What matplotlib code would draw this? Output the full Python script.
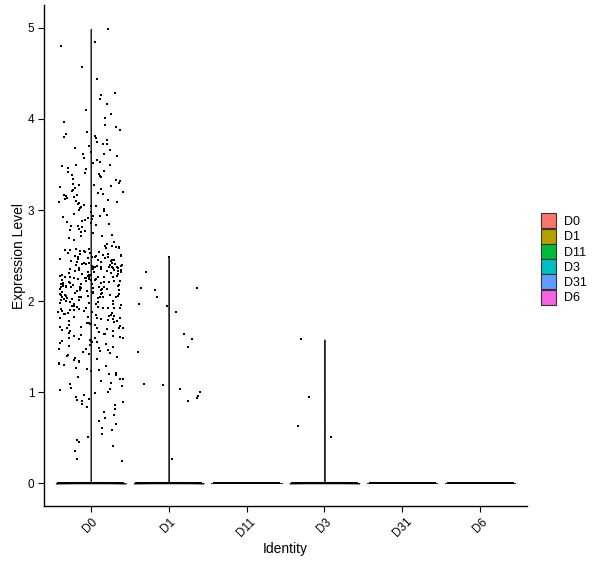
import numpy as np
import matplotlib.pyplot as plt
from matplotlib.patches import Patch

plt.rcParams['font.family'] = ['Liberation Sans', 'DejaVu Sans']

groups = ["D0", "D1", "D11", "D3", "D31", "D6"]
colors = ["#F8766D", "#B79F00", "#00BA38", "#00BFC4", "#619CFF", "#F564E3"]

# number of cells with zero expression in each group
zero_counts = [6000, 6000, 4000, 4000, 3000, 3000]

# non-zero expression values
d0_text = """
4.99 4.85 4.80 4.57 4.44 4.29 4.26 4.22 4.16 4.10 4.06 4.01
3.97 3.93 3.91 3.88 3.86 3.83 3.81 3.80 3.79 3.77 3.75 3.73 3.72 3.70
3.68 3.66 3.64 3.62 3.61 3.59 3.57 3.55 3.53 3.52 3.50
3.49 3.48 3.46 3.45 3.43 3.42 3.41 3.40 3.39 3.37 3.36 3.34 3.33 3.32 3.30
3.29 3.28 3.27 3.26 3.25 3.24 3.23 3.22 3.21 3.20
3.19 3.18 3.17 3.16 3.15 3.14 3.13 3.12 3.11 3.10
3.09 3.09 3.08 3.07 3.06 3.05 3.04 3.03 3.02 3.01 3.00
2.99 2.98 2.96 2.95 2.94 2.93 2.92 2.91 2.90
2.89 2.88 2.87 2.86 2.85 2.84 2.83 2.82 2.81
2.79 2.78 2.77 2.76 2.75 2.73 2.72 2.71 2.69 2.67 2.65 2.63 2.61
2.60 2.59 2.59 2.58 2.58 2.57 2.57 2.56 2.56 2.55 2.55 2.54 2.54 2.53 2.53
2.52 2.52 2.51 2.51 2.50 2.50 2.50
2.49 2.49 2.48 2.48 2.47 2.47 2.46 2.46 2.45 2.45 2.45 2.44 2.44 2.43 2.43
2.42 2.42 2.42 2.41 2.41 2.41 2.40 2.40 2.40
2.39 2.39 2.39 2.38 2.38 2.38 2.37 2.37 2.37 2.36 2.36 2.36 2.35 2.35 2.35
2.34 2.34 2.34 2.33 2.33 2.33 2.32 2.32 2.32 2.31 2.31 2.30 2.30
2.29 2.29 2.29 2.28 2.28 2.28 2.27 2.27 2.27 2.26 2.26 2.26 2.25 2.25 2.25
2.24 2.24 2.24 2.23 2.23 2.23 2.22 2.22 2.22 2.21 2.21 2.21 2.20 2.20 2.20
2.19 2.19 2.19 2.18 2.18 2.18 2.17 2.17 2.17 2.16 2.16 2.16 2.15 2.15 2.15
2.14 2.14 2.14 2.13 2.13 2.13 2.12 2.12 2.12 2.11 2.11 2.10 2.10
2.09 2.09 2.09 2.08 2.08 2.08 2.07 2.07 2.07 2.06 2.06 2.06 2.05 2.05 2.05
2.04 2.04 2.04 2.03 2.03 2.02 2.02 2.01 2.01 2.00 2.00
1.99 1.99 1.98 1.98 1.97 1.97 1.97 1.96 1.96 1.95 1.95 1.94 1.94
1.93 1.93 1.93 1.92 1.92 1.91 1.91 1.90 1.90
1.89 1.89 1.88 1.88 1.87 1.87 1.86 1.86 1.85 1.85 1.84 1.84 1.83 1.83
1.82 1.82 1.81 1.81 1.80 1.80
1.79 1.78 1.78 1.77 1.76 1.76 1.75 1.74 1.74 1.73 1.72 1.72 1.71 1.71 1.70 1.70
1.69 1.68 1.67 1.67 1.66 1.65 1.64 1.64 1.63 1.62 1.62 1.61 1.60 1.60
1.59 1.58 1.57 1.56 1.56 1.55 1.55 1.54 1.53 1.52 1.51 1.50
1.49 1.48 1.47 1.46 1.45 1.44 1.43 1.42 1.41 1.40
1.39 1.38 1.36 1.35 1.34 1.33 1.32 1.31 1.30
1.29 1.27 1.26 1.24 1.23 1.21 1.20 1.19 1.17 1.15 1.14 1.12 1.10
1.09 1.07 1.05 1.04 1.02 1.00 0.99 0.97 0.95 0.93 0.91 0.90
0.89 0.87 0.86 0.84 0.82 0.78 0.75 0.72 0.68 0.65 0.61
0.58 0.54 0.51 0.48 0.45 0.41 0.35 0.27 0.24
"""
d0_values = [float(v) for v in d0_text.split()]
d1_values = [2.48, 2.32, 2.14, 2.14, 2.12, 2.05, 1.97, 1.95, 1.88, 1.64, 1.58,
             1.50, 1.44, 1.09, 1.08, 1.03, 1.00, 0.96, 0.94, 0.90, 0.27]
d11_values = []
d3_values = [1.58, 0.95, 0.63, 0.51]
d31_values = []
d6_values = []
nonzero = [d0_values, d1_values, d11_values, d3_values, d31_values, d6_values]

# Seurat adds tiny noise before the violin, so the kernel is very narrow
bw = 0.003
rng = np.random.default_rng(11)  # only for the horizontal jitter

fig = plt.figure(figsize=(6, 5.68), dpi=100)
ax = fig.add_axes([0.0733, 0.109, 0.805, 0.882])

for i, (g, col) in enumerate(zip(groups, colors)):
    vals = np.concatenate([np.zeros(zero_counts[i]), np.array(nonzero[i])])
    if vals.max() > 0:
        grid = np.linspace(vals.min(), vals.max(), 1024)
        dens = np.zeros_like(grid)
        for v, c in zip(*np.unique(vals, return_counts=True)):
            dens += c * np.exp(-0.5 * ((grid - v) / bw) ** 2)
        w = dens / dens.max() * 0.45
        ax.fill_betweenx(grid, i - w, i + w, facecolor=col, edgecolor='#222222',
                         linewidth=0.7, zorder=2)
    else:
        ax.plot([i - 0.45, i + 0.45], [0, 0], color='#222222', lw=0.7, zorder=2)
    jit = rng.uniform(-0.42, 0.42, len(vals))
    ax.scatter(i + jit, vals, s=3.6, marker='s', color='black', linewidths=0,
               zorder=3)

ax.set_xlim(-0.6, 5.6)
ax.set_ylim(-0.25, 5.25)
ax.set_xticks(range(len(groups)))
ax.set_xticklabels(groups, rotation=45, ha='center', va='top', fontsize=8.5)
ax.set_yticks([0, 1, 2, 3, 4, 5])
ax.tick_params(axis='y', labelsize=8.5, length=4, width=0.8, pad=3)
ax.tick_params(axis='x', length=4, width=0.8, pad=3)
for s in ['top', 'right']:
    ax.spines[s].set_visible(False)
for s in ['left', 'bottom']:
    ax.spines[s].set_linewidth(1.0)
ax.set_xlabel('Identity', fontsize=10, labelpad=2)
ax.set_ylabel('Expression Level', fontsize=10, labelpad=1)

handles = [Patch(facecolor=c, edgecolor='#333333', linewidth=0.8) for c in colors]
fig.legend(handles, groups, loc='center left', bbox_to_anchor=(0.9017, 0.544),
           frameon=False, fontsize=9, handlelength=1.2, handleheight=1.47,
           labelspacing=0.02, handletextpad=0.6, borderaxespad=0, borderpad=0)

fig.savefig('out.png', dpi=100)
